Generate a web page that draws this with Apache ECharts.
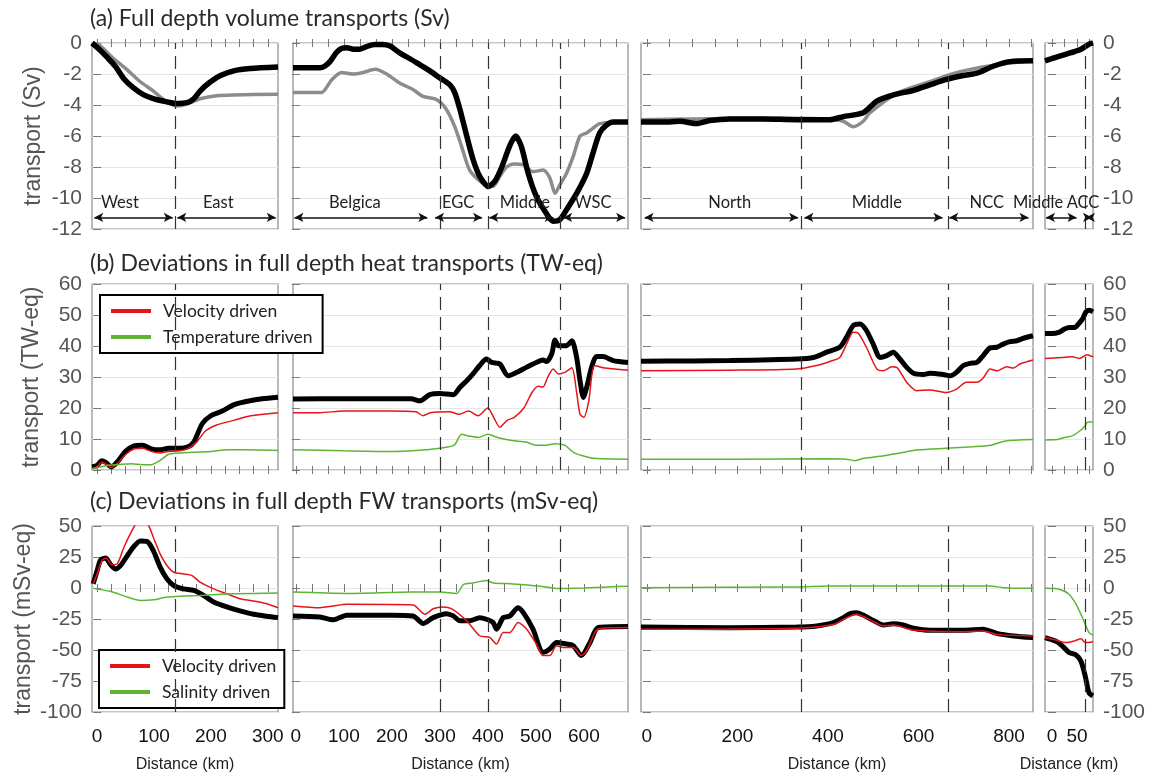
<!DOCTYPE html>
<html>
<head>
<meta charset="utf-8">
<script src="https://cdn.jsdelivr.net/npm/echarts@6/dist/echarts.min.js"></script>
<style>html,body{margin:0;background:#fff}#chart{width:1164px;height:780px}</style>
</head>
<body>
<div id="chart"></div>
<script>
// sections: West/East | Belgica..WSC | North..NCC | Middle/ACC
// each array holds one list of [distance km, value] per section

// (a) full depth volume transport (Sv)
var volBlack = [
    [[-9,0],[-4,-0.15],[5,-0.45],[17,-0.9],[32,-1.5],[47,-2.3],[64,-2.9],[82,-3.35],[100,-3.6],[123,-3.8],[137,-3.9],[158,-3.85],[170,-3.6],[181,-3.1],[196,-2.6],[217,-2.1],[240,-1.8],[269,-1.65],[318,-1.55]],
    [[-6,-1.6],[50,-1.6],[60,-1.5],[71,-1.2],[85,-0.6],[95,-0.35],[106,-0.3],[120,-0.4],[133,-0.4],[150,-0.2],[165,-0.1],[180,-0.1],[196,-0.2],[217,-0.65],[237,-1.0],[258,-1.4],[279,-1.8],[300,-2.25],[321,-2.7],[331,-3.2],[342,-4.3],[356,-6.0],[369,-7.5],[383,-8.6],[401,-9.25],[415,-8.9],[429,-8.0],[446,-6.6],[458,-6.0],[470,-6.7],[484,-8.4],[501,-9.9],[522,-11.0],[536,-11.5],[550,-11.4],[564,-10.75],[585,-9.7],[606,-8.4],[619,-7.1],[633,-5.8],[647,-5.3],[661,-5.1],[692,-5.1]],
    [[-13,-5.1],[37,-5.1],[74,-5.05],[110,-5.2],[139,-5.0],[183,-4.9],[257,-4.9],[331,-4.95],[404,-4.95],[434,-4.75],[478,-4.5],[508,-3.75],[545,-3.35],[589,-3.05],[625,-2.7],[662,-2.35],[699,-2.1],[729,-1.95],[765,-1.5],[802,-1.2],[853,-1.15]],
    [[-14,-1.15],[0,-1.0],[15,-0.85],[30,-0.7],[45,-0.55],[58,-0.4],[68,-0.2],[76,-0.05],[82,0]]
];
var volGray = [
    [[-7,0],[0,-0.1],[6,-0.2],[29,-1.0],[52,-1.7],[76,-2.5],[99,-3.1],[117,-3.65],[134,-4.0],[146,-4.05],[164,-3.85],[181,-3.6],[210,-3.4],[240,-3.35],[318,-3.3]],
    [[-6,-3.2],[53,-3.2],[74,-2.4],[95,-1.9],[119,-2.0],[140,-1.9],[165,-1.7],[189,-2.0],[217,-2.6],[244,-3.0],[265,-3.45],[293,-3.65],[314,-4.3],[331,-5.4],[345,-6.65],[362,-8.2],[383,-8.9],[397,-9.15],[411,-9.25],[425,-8.6],[439,-8.0],[453,-7.8],[474,-7.85],[494,-8.3],[515,-8.2],[529,-8.7],[540,-9.7],[550,-9.15],[564,-8.4],[578,-7.3],[592,-6.0],[606,-5.8],[619,-5.5],[633,-5.2],[692,-5.1]],
    [[-13,-4.95],[100,-4.9],[200,-4.85],[300,-4.85],[404,-4.9],[434,-5.05],[456,-5.4],[478,-5.05],[493,-4.5],[552,-3.25],[625,-2.5],[662,-2.1],[699,-1.8],[773,-1.4],[853,-1.15]],
    [[-14,-1.15],[0,-1.0],[15,-0.85],[30,-0.7],[45,-0.55],[58,-0.4],[68,-0.2],[76,-0.05],[82,0]]
];

// (b) heat transport deviations (TW-eq)
var heatBlack = [
    [[-9,1],[0,1.5],[8,3],[15,2.5],[25,1],[35,2.5],[50,6],[65,7.8],[80,8],[95,6.8],[110,6.5],[125,7],[145,7],[160,7.5],[170,9],[185,15],[200,17.5],[220,19],[240,21],[260,22],[290,23],[318,23.5]],
    [[-6,22.9],[100,23],[200,23],[240,23],[258,22.3],[279,24.3],[300,24.7],[328,24.3],[342,26.7],[356,28.8],[369,31],[383,33.7],[397,35.8],[408,34.7],[425,34.2],[442,30.4],[460,31.5],[480,33.1],[501,34.7],[515,35.5],[522,35],[533,37.4],[540,41.9],[547,40.1],[564,40.1],[575,41.7],[585,36.3],[592,28.8],[599,23.4],[606,26.7],[616,33.1],[626,36.6],[640,36.6],[661,35.3],[692,34.7]],
    [[-13,35.1],[100,35.2],[183,35.3],[331,35.8],[368,36.3],[397,38],[426,39.6],[441,42.8],[456,46.6],[471,47.1],[485,45],[500,40.6],[515,36.3],[530,36.9],[544,38],[559,35.8],[574,33.1],[589,31.2],[611,30.8],[625,31.2],[655,30.8],[670,30.4],[684,31.5],[699,33.7],[714,34.4],[729,34.7],[743,36.9],[758,39.4],[773,39.6],[787,40.6],[802,41.4],[817,41.7],[832,42.5],[853,43.3]],
    [[-14,44],[0,44],[15,44.5],[25,45.5],[35,46],[45,46],[55,47.5],[62,49],[68,51],[75,51.5],[82,51]]
];
var heatRed = [
    [[-9,0.5],[0,1],[8,2.5],[15,2],[25,0.8],[35,2],[50,5],[65,6.8],[80,7],[95,6],[110,5.5],[125,6],[145,6.2],[160,7],[175,9],[190,12.5],[210,14.5],[240,16],[270,17.5],[318,18.5]],
    [[-6,18.5],[50,18.5],[100,19],[200,19],[250,18.8],[265,17.5],[280,18.5],[320,18.8],[340,18],[360,19],[380,17.5],[400,20],[412,17],[425,13.8],[440,16],[455,17],[475,20],[492,25],[505,27],[515,26.8],[525,30],[536,32.6],[547,31],[560,31.5],[575,33],[585,25],[592,18],[600,17],[610,22],[622,33.7],[640,33],[692,32.2]],
    [[-13,32],[183,32.2],[331,32.6],[375,33.7],[404,35],[426,36.3],[441,40.6],[456,44.4],[467,44.1],[485,39.6],[508,32.6],[522,32],[541,33.3],[552,33.1],[574,28.3],[596,25.6],[625,25.8],[662,25],[684,26.1],[706,28.3],[729,28.3],[743,29.7],[758,32.6],[773,32],[795,33.3],[810,32.9],[824,34.2],[853,35.5]],
    [[-14,36],[20,36.3],[40,36.5],[55,36],[65,36.8],[70,37.2],[82,36.5]]
];
var heatGreen = [
    [[-9,0.3],[20,1.5],[40,1.8],[60,2],[80,1.7],[95,1.7],[110,3],[125,5],[145,5.5],[170,5.7],[200,6],[230,6.5],[260,6.5],[318,6.3]],
    [[-6,6.5],[100,6.2],[200,6],[250,6.3],[300,7],[330,8],[345,11.5],[360,11],[380,10.5],[400,11.5],[420,10.5],[450,9.5],[480,9],[500,8],[520,8],[540,8.5],[560,8],[580,5.5],[600,4.5],[620,3.8],[692,3.5]],
    [[-13,3.5],[200,3.5],[400,3.6],[440,3.5],[460,3],[480,3.8],[520,4.5],[560,5.5],[600,6.5],[660,7],[720,7.5],[760,8],[790,9.3],[853,9.8]],
    [[-14,9.7],[10,9.8],[25,10.5],[40,11],[55,12.5],[65,14],[72,15.5],[82,15.5]]
];

// (c) freshwater transport deviations (mSv-eq)
var fwBlack = [
    [[-7,3.3],[0,14],[6,22.5],[15,24.1],[23,19.3],[32,15.3],[41,18],[53,26],[64,33.2],[76,38],[88,37.5],[99,30],[111,16.7],[123,7.3],[135,2],[152,-0.7],[170,-2],[187,-6],[205,-11.3],[228,-15.3],[251,-18.5],[275,-21.2],[298,-22.8],[318,-23.9]],
    [[-6,-22.5],[50,-23.3],[78,-25.7],[106,-22],[200,-22],[244,-22.5],[265,-28.7],[286,-23.9],[314,-20.7],[328,-22.5],[342,-26.5],[362,-26.5],[383,-23.9],[397,-25.2],[411,-27.9],[418,-33.2],[432,-23.9],[446,-22.5],[463,-15.9],[474,-19.9],[494,-33.2],[515,-51.9],[529,-49.2],[543,-43.9],[564,-45.2],[578,-46.5],[595,-54.5],[613,-43.9],[630,-31.9],[692,-31.1]],
    [[-13,-31.5],[183,-32],[331,-31.5],[375,-30.6],[412,-28],[434,-23.9],[449,-20.7],[463,-19.9],[478,-21.8],[500,-26.1],[522,-29.8],[544,-28.8],[566,-29.8],[589,-32.5],[625,-34.1],[699,-34.1],[743,-33.3],[773,-36.6],[810,-38.7],[853,-40]],
    [[-14,-40],[8,-43],[21,-46.8],[34,-52],[48,-54],[58,-59],[67,-72],[74,-84.5],[82,-87]]
];
var fwRed = [
    [[-7,3.3],[0,11.3],[9,22.5],[16,24],[26,18.8],[35,19.3],[47,32.7],[61,46],[70,53],[80,55],[90,51],[99,40.7],[111,27.3],[123,18],[135,12.7],[152,11.3],[167,10],[181,4.7],[205,-0.7],[228,-4.7],[251,-8.7],[275,-10.5],[298,-12.7],[318,-15.9]],
    [[-6,-14.5],[50,-15.9],[78,-14.5],[106,-13.2],[244,-13.7],[269,-21.2],[286,-16.7],[307,-15.3],[324,-16.7],[356,-26.5],[383,-38.5],[404,-39.9],[418,-45.2],[432,-35.9],[446,-35.9],[463,-27.9],[481,-33.2],[501,-45.2],[515,-54.5],[529,-54.5],[543,-46.5],[557,-47.9],[578,-47.9],[595,-54.5],[606,-50.5],[623,-35.9],[633,-32.7],[692,-31.9]],
    [[-13,-33.3],[331,-32.5],[412,-29.5],[434,-25.3],[463,-21.2],[500,-27],[522,-30.6],[544,-29.8],[589,-34.1],[699,-35.2],[743,-34.7],[773,-37.4],[853,-38.7]],
    [[-14,-40],[8,-42],[28,-44],[45,-42.7],[58,-41],[67,-44],[82,-43.3]]
];
var fwGreen = [
    [[-7,-0.3],[23,-2.7],[53,-7.3],[76,-10],[99,-9.5],[123,-7.3],[152,-6.5],[181,-6],[211,-5.2],[240,-4.7],[318,-4.1]],
    [[-6,-3.3],[106,-4.4],[244,-3.3],[300,-3.3],[335,-4.4],[349,2.8],[369,4.1],[397,6],[411,4.1],[453,3.3],[508,1.5],[543,-0.4],[600,0.1],[650,0.9],[692,1.5]],
    [[-13,0.3],[331,0.8],[404,1.6],[589,1.6],[758,1.6],[788,0.3],[853,-0.3]],
    [[-14,-0.3],[14,-1],[34,-5],[48,-13],[61,-24],[74,-36],[82,-38]]
];

// section boundaries (dashed) and named regions with their extent
var boundaries = [[137], [300, 400, 550], [340, 665], [66]];
var regionNames = [['West', 'East'], ['Belgica', 'EGC', 'Middle', 'WSC'], ['North', 'Middle', 'NCC'], ['Middle', 'ACC']];
var regionSpans = [
    [[-5, 133], [141, 314]],
    [[-3, 274], [290, 388], [403, 537], [557, 686]],
    [[-5, 334], [348, 653], [668, 843]],
    [[-12, 49], [68, 80]]
];
var regionLabelX = [[40, 213], [123, 338, 477, 619], [183, 508, 751], [-12, 62]];

var xTickLabels = [[0, 100, 200, 300], [0, 100, 200, 300, 400, 500, 600], [0, 200, 400, 600, 800], [0, 50]];

var titles = ['(a) Full depth volume transports (Sv)',
              '(b) Deviations in full depth heat transports (TW-eq)',
              '(c) Deviations in full depth FW transports (mSv-eq)'];

// layout
var colLeft = [92, 293, 641, 1045];
var colWidth = [186, 335, 392, 48];
var rowTop = [43, 284, 526];
var rowHeight = 186;
var titleTop = [7, 252, 490];
var xMin = [-9, -6, -13, -14];
var xMax = [318, 692, 853, 82];
var minorStep = [25, 100 / 3, 50, 25];
var yCfg = [
    {min: -12, max: 0, interval: 2, name: 'transport (Sv)', gap: 47},
    {min: 0, max: 60, interval: 10, name: 'transport (TW-eq)', gap: 49},
    {min: -100, max: 50, interval: 25, name: 'transport (mSv-eq)', gap: 57}
];

var tickFont = 'Liberation Sans';
var textFont = 'Lato';
var red = '#e5141b';
var green = '#5db532';

function steps(lo, hi, step) {
    var out = [];
    var start = Math.ceil(lo / step) * step;
    for (var v = start; v <= hi + 1e-6; v += step) out.push(Math.round(v * 100) / 100);
    return out;
}

var grids = [], xAxes = [], yAxes = [], series = [];

for (var r = 0; r < 3; r++) {
    for (var c = 0; c < 4; c++) {
        var gi = r * 4 + c;
        grids.push({
            left: colLeft[c], top: rowTop[r], width: colWidth[c], height: rowHeight,
            show: true, borderColor: '#8a8a8a', borderWidth: 1.2
        });
        var minor = steps(xMin[c], xMax[c], minorStep[c]);
        var tick = {show: true, inside: true, length: 4, customValues: minor, lineStyle: {color: '#777'}};
        xAxes.push({
            type: 'value', gridIndex: gi, position: 'bottom', min: xMin[c], max: xMax[c],
            axisLine: {show: false}, splitLine: {show: false}, axisTick: tick,
            axisLabel: {show: r === 2, customValues: xTickLabels[c], margin: 15,
                fontSize: 19, fontFamily: tickFont, color: '#111'},
            name: r === 2 ? 'Distance (km)' : '', nameLocation: 'middle', nameGap: 45,
            nameTextStyle: {fontSize: 16, fontFamily: tickFont, color: '#222'}
        });
        xAxes.push({
            type: 'value', gridIndex: gi, position: 'top', min: xMin[c], max: xMax[c],
            axisLine: {show: false}, splitLine: {show: false}, axisTick: tick,
            axisLabel: {show: false}
        });
        var yc = yCfg[r];
        var yTick = {show: true, inside: true, length: 4, lineStyle: {color: '#777'}};
        var yLab = {fontSize: 21, fontFamily: tickFont, color: '#555', margin: 10};
        yAxes.push({
            type: 'value', gridIndex: gi, position: 'left', min: yc.min, max: yc.max, interval: yc.interval,
            axisLine: {show: false}, axisTick: yTick,
            splitLine: {show: true, lineStyle: {color: '#e6e6e6', width: 1}},
            axisLabel: Object.assign({show: c === 0}, yLab),
            name: c === 0 ? yc.name : '', nameLocation: 'middle', nameGap: yc.gap,
            nameTextStyle: {fontSize: 23, fontFamily: tickFont, color: '#555'}
        });
        yAxes.push({
            type: 'value', gridIndex: gi, position: 'right', min: yc.min, max: yc.max, interval: yc.interval,
            axisLine: {show: false}, axisTick: yTick, splitLine: {show: false},
            axisLabel: Object.assign({show: c === 3}, yLab)
        });

        // dashed section boundaries
        var dashed = {
            silent: true, symbol: 'none', animation: false,
            label: {show: false},
            lineStyle: {color: '#333', width: 1.2, type: [13, 7]},
            data: boundaries[c].map(function (b) { return {xAxis: b}; })
        };

        var base = {type: 'line', xAxisIndex: 2 * gi, yAxisIndex: 2 * gi, showSymbol: false,
            smooth: 0.25, animation: false};

        if (r === 0) {
            // arrows and region names
            var yArrow = -11.25, yLabel = -10.3;
            regionSpans[c].forEach(function (s) {
                dashed.data.push([
                    {coord: [s[0], yArrow], symbol: 'arrow', symbolSize: [7, 9],
                        lineStyle: {type: 'solid', color: '#111', width: 1.5}},
                    {coord: [s[1], yArrow], symbol: 'arrow', symbolSize: [7, 9]}
                ]);
            });
            var marks = regionNames[c].map(function (n, i) {
                var p = {coord: [regionLabelX[c][i], yLabel], value: n};
                if (c === 3 && i === 0) p.label = {offset: [-8, 0]};
                return p;
            });
            series.push(Object.assign({}, base, {
                name: 'gray', data: volGray[c], color: '#8c8c8c',
                lineStyle: {color: '#8c8c8c', width: 3.5}
            }));
            series.push(Object.assign({}, base, {
                name: 'total', data: volBlack[c], color: '#000',
                lineStyle: {color: '#000', width: 5.5}, markLine: dashed,
                markPoint: {symbol: 'rect', symbolSize: 0, silent: true, animation: false,
                    label: {show: true, position: 'inside', formatter: '{c}',
                        fontSize: 16.5, fontFamily: textFont, color: '#222'},
                    data: marks}
            }));
        } else {
            var blk = r === 1 ? heatBlack : fwBlack;
            var rd = r === 1 ? heatRed : fwRed;
            var gr = r === 1 ? heatGreen : fwGreen;
            series.push(Object.assign({}, base, {
                name: 'total', data: blk[c], color: '#000',
                lineStyle: {color: '#000', width: 5}, markLine: dashed
            }));
            series.push(Object.assign({}, base, {
                name: 'Velocity driven', data: rd[c], color: red,
                lineStyle: {color: red, width: 1.5}
            }));
            series.push(Object.assign({}, base, {
                name: r === 1 ? 'Temperature driven' : 'Salinity driven', data: gr[c], color: green,
                lineStyle: {color: green, width: 1.5}
            }));
        }
    }
}

var legendBase = {
    orient: 'vertical', icon: 'rect', itemWidth: 40, itemHeight: 4, itemGap: 8,
    selectedMode: false, backgroundColor: '#fff', borderColor: '#000', borderWidth: 2,
    textStyle: {fontSize: 17.5, fontFamily: textFont, color: '#222', padding: [0, 0, 0, 7]}
};

var option = {
    animation: false,
    backgroundColor: '#fff',
    title: titles.map(function (t, i) {
        return {text: t, left: 90, top: titleTop[i], padding: 0,
            textStyle: {fontSize: 23, fontWeight: 'normal', fontFamily: textFont, color: '#2a2a2a'}};
    }),
    legend: [
        Object.assign({}, legendBase, {left: 100, top: 295, padding: [7, 10, 7, 11],
            data: ['Velocity driven', 'Temperature driven']}),
        Object.assign({}, legendBase, {left: 99, top: 650, padding: [7, 8, 7, 11],
            data: ['Velocity driven', 'Salinity driven']})
    ],
    grid: grids,
    xAxis: xAxes,
    yAxis: yAxes,
    series: series
};

var myChart = echarts.init(document.getElementById('chart'));
myChart.setOption(option);
</script>
</body>
</html>
